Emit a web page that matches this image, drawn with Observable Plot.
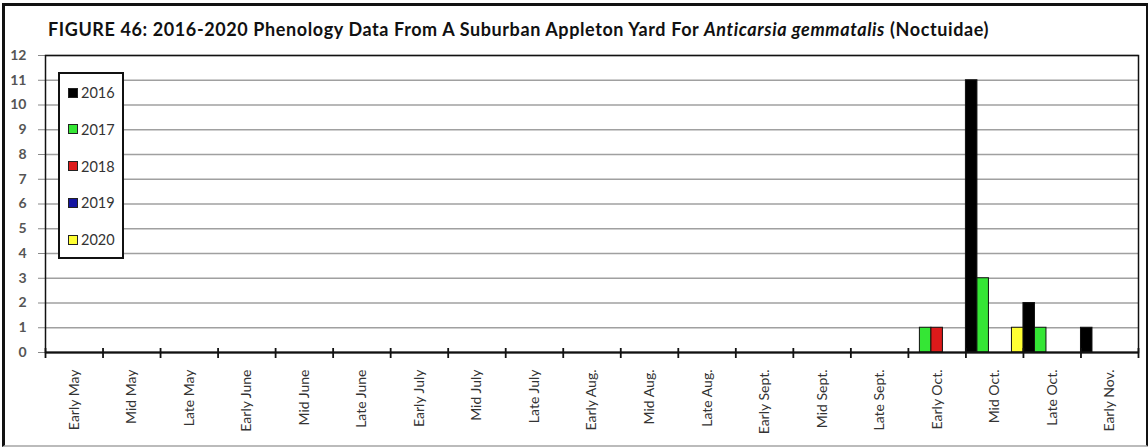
<!DOCTYPE html>
<html>
<head>
<meta charset="utf-8">
<script src="https://cdn.jsdelivr.net/npm/d3@7"></script>
<script src="https://cdn.jsdelivr.net/npm/@observablehq/plot@0.6"></script>
<style>
  html, body { margin: 0; padding: 0; background: #fff; }
  #wrap { position: relative; width: 1148px; height: 447px; overflow: hidden; background: #fff; font-family: Lato, "Open Sans", sans-serif; }
  #border { position: absolute; left: 2px; top: 3px; width: 1141px; height: 439px; border: 3px solid #111; border-bottom: 2px solid #bbb; pointer-events: none; z-index: 5; }
  #title { position: absolute; left: 48px; top: 18px; font-size: 18px; letter-spacing: 0.6px; font-weight: bold; color: #111; white-space: nowrap; }
  #chart { position: absolute; left: 0; top: 45px; }
  #legend { position: absolute; left: 58px; top: 72px; width: 62px; height: 183px; background: #fff; border: 2px solid #111; z-index: 3; }
  .item { position: absolute; left: 8px; font-size: 14.5px; color: #333; display: flex; align-items: center; }
  .sw { width: 8px; height: 8px; border: 1px solid #222; margin-right: 3px; }
</style>
</head>
<body>
<div id="wrap">
  <div id="title">FIGURE 46: 2016-2020 Phenology Data From A Suburban Appleton Yard For <i>Anticarsia gemmatalis</i> (Noctuidae)</div>
  <div id="chart"></div>
  <div id="legend"></div>
  <div id="border"></div>
</div>
<script>
const periods = ["Early May","Mid May","Late May","Early June","Mid June","Late June","Early July","Mid July","Late July","Early Aug.","Mid Aug.","Late Aug.","Early Sept.","Mid Sept.","Late Sept.","Early Oct.","Mid Oct.","Late Oct.","Early Nov."];
const years = ["2016","2017","2018","2019","2020"];
const counts2016 = [0,0,0,0,0,0,0,0,0,0,0,0,0,0,0,0,11,2,1];
const counts2017 = [0,0,0,0,0,0,0,0,0,0,0,0,0,0,0,1,3,1,0];
const counts2018 = [0,0,0,0,0,0,0,0,0,0,0,0,0,0,0,1,0,0,0];
const counts2019 = [0,0,0,0,0,0,0,0,0,0,0,0,0,0,0,0,0,0,0];
const counts2020 = [0,0,0,0,0,0,0,0,0,0,0,0,0,0,0,0,1,0,0];
const colors = ["#000000", "#35e635", "#dd1a1a", "#1414a0", "#ffff33"];
const yTicks = [0,1,2,3,4,5,6,7,8,9,10,11,12];

const series = [counts2016, counts2017, counts2018, counts2019, counts2020];
const rows = [];
series.forEach((arr, j) => arr.forEach((v, i) => {
  if (v > 0) rows.push({i, j, year: years[j], value: v});
}));
const boundaries = d3.range(periods.length + 1);
const centers = d3.range(periods.length).map(i => i + 0.5);

const chart = Plot.plot({
  width: 1148,
  height: 402,
  marginTop: 10,
  marginBottom: 95,
  marginLeft: 45,
  marginRight: 10,
  style: {fontFamily: "Lato, 'Open Sans', sans-serif", background: "transparent"},
  x: {type: "linear", domain: [0, periods.length]},
  y: {domain: [0, 12]},
  color: {domain: years, range: colors},
  marks: [
    Plot.gridY(yTicks, {stroke: "#a0a0a0", strokeOpacity: 1, strokeWidth: 1.3}),
    Plot.axisY(yTicks, {tickSize: 7, stroke: "#888", fontSize: 14, fontWeight: "bold", fill: "#555", tickPadding: 12, label: null}),
    Plot.rect(rows, {
      x1: d => d.i + d.j / years.length,
      x2: d => d.i + (d.j + 1) / years.length,
      y1: 0, y2: "value",
      fill: "year", stroke: "#111", strokeWidth: 1
    }),
    Plot.frame({stroke: "#111", strokeWidth: 1.5}),
    Plot.ruleY([0], {stroke: "#111", strokeWidth: 2.2}),
    Plot.ruleX(boundaries, {y1: 0, y2: 0, insetTop: -4, insetBottom: -6, stroke: "#111", strokeWidth: 1.8}),
    Plot.axisX(centers, {
      tickSize: 0, tickPadding: 17, tickRotate: -90, fontSize: 14, fill: "#333",
      letterSpacing: 0.6,
      tickFormat: d => periods[Math.floor(d)], label: null
    })
  ]
});
document.getElementById("chart").appendChild(chart);

const legend = document.getElementById("legend");
years.forEach((y, j) => {
  const it = document.createElement("div");
  it.className = "item";
  it.style.top = (10 + j * 36.8) + "px";
  const sw = document.createElement("span");
  sw.className = "sw";
  sw.style.background = chart.scale("color").apply(y);
  it.appendChild(sw);
  it.appendChild(document.createTextNode(y));
  legend.appendChild(it);
});
</script>
</body>
</html>
